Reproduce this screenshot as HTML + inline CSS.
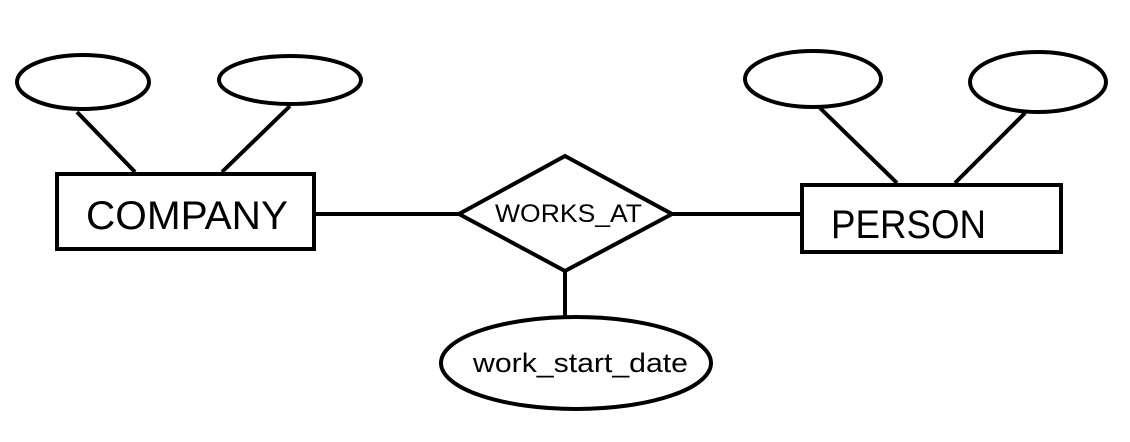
<!DOCTYPE html>
<html><head><style>html,body{margin:0;padding:0;background:#fff;}svg{display:block;}</style></head>
<body>
<svg width="1130" height="442" viewBox="0 0 1130 442" xmlns="http://www.w3.org/2000/svg">
<g fill="none" stroke="#000" stroke-width="4">
<ellipse cx="83" cy="82" rx="66" ry="27"/>
<ellipse cx="290" cy="80" rx="71" ry="24"/>
<line x1="77" y1="112" x2="135" y2="172"/>
<line x1="290" y1="106" x2="222" y2="172"/>
<rect x="57" y="174" width="257" height="75"/>
<line x1="315" y1="214" x2="458" y2="214"/>
<polygon points="565,156 459,214 565,271 672,214"/>
<line x1="673" y1="214" x2="800" y2="214"/>
<line x1="565" y1="271" x2="565" y2="317"/>
<ellipse cx="576" cy="363" rx="135" ry="46"/>
<ellipse cx="813" cy="79" rx="68" ry="28"/>
<ellipse cx="1038" cy="82" rx="68" ry="30"/>
<line x1="820" y1="108" x2="897" y2="183"/>
<line x1="1025" y1="113" x2="955" y2="183"/>
<rect x="802" y="185" width="259" height="67"/>
</g>
<g font-family="'Liberation Sans', sans-serif" fill="#000">
<text x="86" y="229" font-size="40" textLength="202" lengthAdjust="spacingAndGlyphs">COMPANY</text>
<text x="831" y="238" font-size="40" textLength="155" lengthAdjust="spacingAndGlyphs">PERSON</text>
<text x="495" y="222" font-size="25" textLength="147" lengthAdjust="spacingAndGlyphs">WORKS_AT</text>
<text x="473" y="372" font-size="27" textLength="215" lengthAdjust="spacingAndGlyphs">work_start_date</text>
</g>
</svg>
</body></html>
